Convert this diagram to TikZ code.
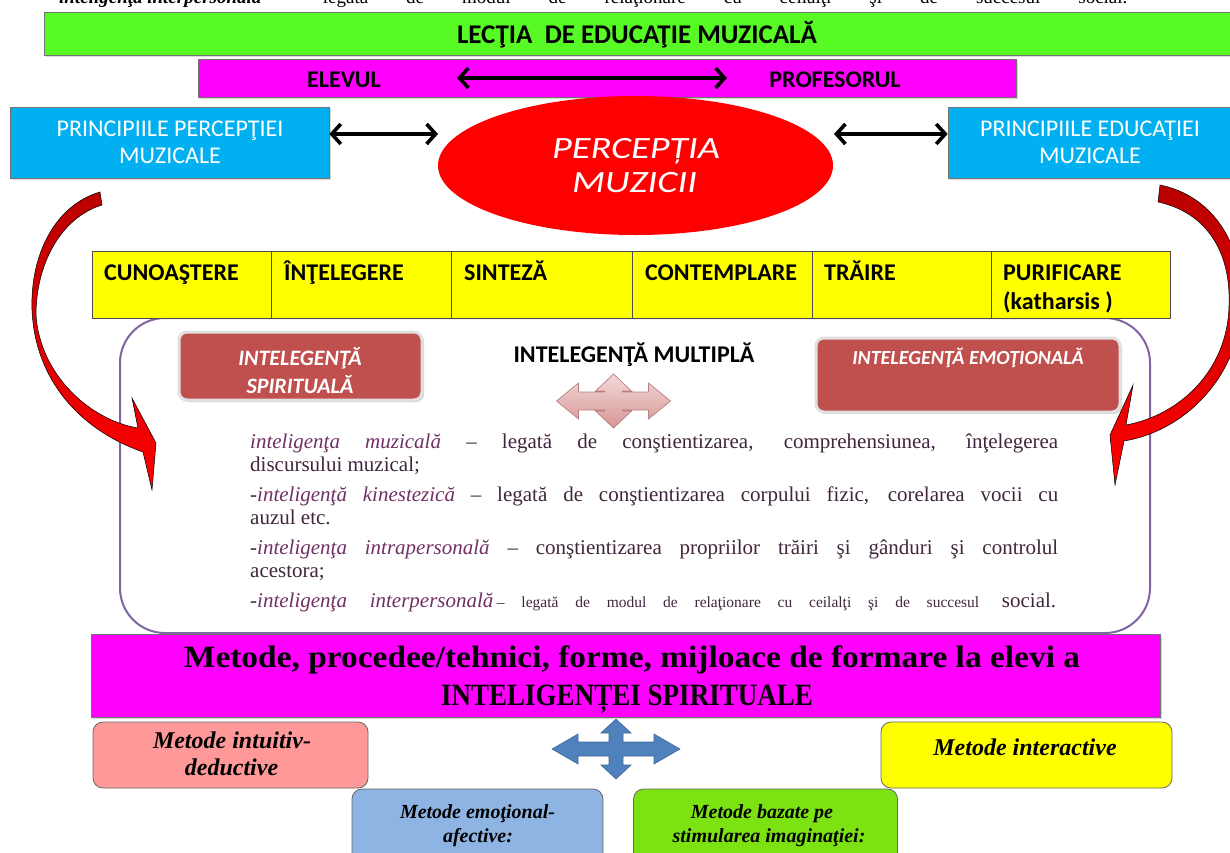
\documentclass[tikz,border=0pt]{standalone}
\usepackage{fontspec}
\usepackage{graphicx}
\setmainfont{Liberation Serif}
\newfontfamily\calfont{Carlito}
\usetikzlibrary{arrows.meta,shapes.geometric,shadows}

\definecolor{cgreen}{RGB}{88,250,38}
\definecolor{cmag}{RGB}{255,0,255}
\definecolor{cblue}{RGB}{0,176,240}
\definecolor{cyel}{RGB}{255,255,0}
\definecolor{cpurp}{RGB}{128,100,162}
\definecolor{cbrick}{RGB}{192,80,77}
\definecolor{cpink}{RGB}{255,153,153}
\definecolor{clblue}{RGB}{141,180,226}
\definecolor{clgreen}{RGB}{124,226,18}
\definecolor{csteel}{RGB}{79,129,189}
\definecolor{cdred}{RGB}{185,0,0}
\definecolor{ctxt}{RGB}{64,38,60}
\definecolor{cital}{RGB}{112,48,100}
\definecolor{cqpink}{RGB}{236,190,190}
\definecolor{cqpinkd}{RGB}{214,150,150}

\newcommand{\fitw}[2]{\resizebox{#1}{\height}{#2}}
% style, cx, cy, hx, hy, shaft, head, Lx, Ly
\newcommand{\quadarr}[9]{%
 \path[#1] ({#2+#4},#3) -- ({#2+#4-#8},{#3-#7}) -- ({#2+#4-#8},{#3-#6}) -- ({#2+#6},{#3-#6})
 -- ({#2+#6},{#3-#5+#9}) -- ({#2+#7},{#3-#5+#9}) -- (#2,{#3-#5}) -- ({#2-#7},{#3-#5+#9})
 -- ({#2-#6},{#3-#5+#9}) -- ({#2-#6},{#3-#6}) -- ({#2-#4+#8},{#3-#6}) -- ({#2-#4+#8},{#3-#7})
 -- ({#2-#4},#3) -- ({#2-#4+#8},{#3+#7}) -- ({#2-#4+#8},{#3+#6}) -- ({#2-#6},{#3+#6})
 -- ({#2-#6},{#3+#5-#9}) -- ({#2-#7},{#3+#5-#9}) -- (#2,{#3+#5}) -- ({#2+#7},{#3+#5-#9})
 -- ({#2+#6},{#3+#5-#9}) -- ({#2+#6},{#3+#6}) -- ({#2+#4-#8},{#3+#6}) -- ({#2+#4-#8},{#3+#7}) -- cycle;}

\tikzset{
 bar/.style={rectangle, draw=black!55, line width=0.7pt, inner sep=0pt,
   drop shadow={shadow xshift=1.5pt, shadow yshift=-1.5pt, opacity=0.3}},
 cell/.style={rectangle, draw=black!70, line width=0.8pt, fill=cyel, inner sep=0pt,
   minimum height=67, anchor=north west},
 celltxt/.style={anchor=base west, inner sep=0pt, font=\calfont\bfseries\fontsize{24}{28}\selectfont},
 caltxt/.style={anchor=base, inner sep=0pt, font=\calfont\fontsize{24}{28}\selectfont},
 calbold/.style={anchor=base, inner sep=0pt, font=\calfont\bfseries\fontsize{24}{28}\selectfont},
 brick/.style={rectangle, rounded corners=8pt, fill=cbrick, draw=black!12, line width=3pt,
   drop shadow={shadow xshift=2pt, shadow yshift=-2pt, opacity=0.35}},
 brtxt/.style={anchor=base, inner sep=0pt, text=white, font=\calfont\bfseries\itshape\fontsize{22}{26}\selectfont},
 body/.style={anchor=base west, inner sep=0pt, text=ctxt, font=\fontsize{21}{23}\selectfont},
 mbox/.style={rectangle, rounded corners=10pt, draw=black!60, line width=0.8pt, inner sep=0pt},
 mtxt/.style={anchor=base, inner sep=0pt, font=\bfseries\itshape\fontsize{24}{27}\selectfont},
 stxt/.style={anchor=base, inner sep=0pt, font=\bfseries\itshape\fontsize{20}{23}\selectfont},
 dbl/.style={line width=3.6pt, arrows={Straight Barb[length=9pt,width=20pt]-Straight Barb[length=9pt,width=20pt]}},
 redarr/.style={top color=cdred, bottom color=red, draw=black, line width=0.5pt},
}

\begin{document}
\begin{tikzpicture}[x=1pt,y=-1pt]
\useasboundingbox (0,0) rectangle (1230,852);
\clip (0,0) rectangle (1230,852);

% cut-off line at top
\node[anchor=base west, inner sep=0pt, font=\fontsize{19}{22}\selectfont] (toptext) at (59,3)
 {\textbf{\textit{inteligenţa interpersonală}}\hspace{14pt}\makebox[852pt][s]{– legată de modul de relaţionare cu ceilalţi şi de succesul social.}};

% title bar
\node[bar, fill=cgreen, minimum width=1195, minimum height=43] (green) at (642,33.5) {};
\node[calbold, font=\calfont\bfseries\fontsize{27}{30}\selectfont] (title) at (637,43) {LECŢIA\ \ DE EDUCAŢIE MUZICALĂ};

% elevul - profesorul
\node[bar, fill=cmag, minimum width=818, minimum height=38] (mag1) at (607,78) {};
\node[calbold] (elev) at (344,87) {ELEVUL};
\node[calbold] (prof) at (835,87) {PROFESORUL};
\coordinate (ea) at (457,78);
\coordinate (pa) at (727,78);
\draw[dbl] (ea) -- (pa);

% principle boxes
\node[bar, fill=cblue, minimum width=319, minimum height=71] (pl) at (169.5,142.5) {};
\node[caltxt, text=white] (pl1) at (170,136) {PRINCIPIILE PERCEPŢIEI};
\node[caltxt, text=white] (pl2) at (170,163) {MUZICALE};
\node[bar, fill=cblue, minimum width=295, minimum height=71] (pr) at (1095.5,142.5) {};
\node[caltxt, text=white] (pr1) at (1090,136) {PRINCIPIILE EDUCAŢIEI};
\node[caltxt, text=white] (pr2) at (1090,163) {MUZICALE};

% ellipse
\node[ellipse, fill=red, minimum width=395, minimum height=139, inner sep=0pt] (perc) at (635.5,165.5) {};
\node[anchor=base, inner sep=0pt, text=white, font=\calfont\itshape\fontsize{31}{34}\selectfont] (pc1) at (636,158) {\fitw{168pt}{PERCEPȚIA}};
\node[anchor=base, inner sep=0pt, text=white, font=\calfont\itshape\fontsize{31}{34}\selectfont] (pc2) at (634.5,192) {\fitw{125pt}{MUZICII}};

\coordinate (lae) at (438,134);
\coordinate (rae) at (834,134);
\draw[dbl] ([yshift=8.5pt]pl.east) -- (lae);
\draw[dbl] (rae) -- ([yshift=8.5pt]pl.east -| pr.west);

% container
\node[rectangle, draw=cpurp, line width=2pt, rounded corners=45pt, minimum width=1030, minimum height=315, inner sep=0pt] (cont) at (635,475.5) {};

% table
\node[cell, minimum width=179] (c1) at (92,251) {};
\node[cell, minimum width=180] (c2) at (271,251) {};
\node[cell, minimum width=181] (c3) at (451,251) {};
\node[cell, minimum width=180] (c4) at (632,251) {};
\node[cell, minimum width=179] (c5) at (812,251) {};
\node[cell, minimum width=179] (c6) at (991,251) {};
\node[celltxt] (t1) at (104,280) {CUNOAŞTERE};
\node[celltxt] (t2) at (284,280) {ÎNŢELEGERE};
\node[celltxt] (t3) at (464,280) {SINTEZĂ};
\node[celltxt] (t4) at (645,280) {CONTEMPLARE};
\node[celltxt] (t5) at (824,280) {TRĂIRE};
\node[celltxt] (t6) at (1003,280) {PURIFICARE};
\node[celltxt] (t6b) at (1003,309) {(katharsis )};

% intelligence boxes
\node[brick, minimum width=243, minimum height=68] (spir) at (300.5,366) {};
\node[brtxt] (sp1) at (300,365) {INTELEGENŢĂ};
\node[brtxt] (sp2) at (300,393) {SPIRITUALĂ};
\node[brick, minimum width=304, minimum height=74] (emo) at (968,375) {};
\node[brtxt, font=\calfont\bfseries\itshape\fontsize{20}{23}\selectfont] (em1) at (968,364) {INTELEGENŢĂ EMOŢIONALĂ};
\node[anchor=base, inner sep=0pt, font=\calfont\bfseries\fontsize{24}{27}\selectfont] (mult) at (634,362) {INTELEGENŢĂ MULTIPLĂ};

\quadarr{top color=cqpink!60!white, bottom color=cqpinkd, draw=cqpinkd!85!black, line width=0.7pt}{613.5}{401}{57}{27}{9}{18}{22}{17}

% body text
\node[body] (b1) at (250,448) {\makebox[808pt][s]{{\color{cital}\itshape inteligenţa muzicală} – legată de conştientizarea, comprehensiunea, înţelegerea}};
\node[body] (b2) at (250,471) {discursului muzical;};
\node[body] (b3) at (250,501) {\makebox[808pt][s]{-{\color{cital}\itshape inteligenţă kinestezică} – legată de conştientizarea corpului fizic, corelarea vocii cu}};
\node[body] (b4) at (250,524) {auzul etc.};
\node[body] (b5) at (250,554) {\makebox[808pt][s]{-{\color{cital}\itshape inteligenţa intrapersonală} – conştientizarea propriilor trăiri şi gânduri şi controlul}};
\node[body] (b6) at (250,577) {acestora;};
\node[body] (b7) at (250,607) {\makebox[806pt][s]{-{\color{cital}\itshape inteligenţa interpersonală}\,{\fontsize{15.5}{18}\selectfont – legată de modul de relaţionare cu ceilalţi şi de succesul} social.}};

% curved red arrows
\path[redarr] (100,192) .. controls (55,205) and (30,255) .. (32,310)
  .. controls (35,380) and (80,430) .. (143,452) -- (152,490) -- (156,443) -- (132,398) -- (138,428)
  .. controls (90,420) and (40,375) .. (36,315) .. controls (36,265) and (60,218) .. (102,205) -- cycle;
\path[redarr] (1160,185) .. controls (1210,195) and (1242,240) .. (1242,300)
  .. controls (1242,370) and (1190,430) .. (1124,441) -- (1115,485) -- (1110,435) -- (1133,385) -- (1126,425)
  .. controls (1180,415) and (1228,370) .. (1229,305) .. controls (1231,250) and (1205,212) .. (1158,202) -- cycle;

% methods title
\node[bar, fill=cmag, minimum width=1069, minimum height=83] (meth) at (625.5,675.5) {};
\node[anchor=base, inner sep=0pt, font=\bfseries\fontsize{31}{36}\selectfont] (mt1) at (632,667) {\fitw{896pt}{Metode, procedee/tehnici, forme, mijloace de formare la elevi a}};
\node[anchor=base, inner sep=0pt, font=\bfseries\fontsize{31}{36}\selectfont] (mt2) at (627,705) {\fitw{372pt}{INTELIGENȚEI SPIRITUALE}};

% method boxes
\node[mbox, fill=cpink, minimum width=275, minimum height=66] (m1) at (230.5,755) {};
\node[mtxt] (m1a) at (232,748) {Metode intuitiv-};
\node[mtxt] (m1b) at (231.5,775) {deductive};
\node[mbox, fill=cyel, minimum width=291, minimum height=66] (m2) at (1026.5,755) {};
\node[mtxt] (m2a) at (1025,755) {Metode interactive};
\node[mbox, fill=clblue, minimum width=251, minimum height=80] (m3) at (477.5,829) {};
\node[stxt] (m3a) at (477.5,818) {Metode emoţional-};
\node[stxt] (m3b) at (478,842) {afective:};
\node[mbox, fill=clgreen, minimum width=264, minimum height=80] (m4) at (765.5,829) {};
\node[stxt] (m4a) at (762,818) {Metode bazate pe};
\node[stxt] (m4b) at (769,842) {stimularea imaginaţiei:};

\quadarr{fill=csteel, draw=csteel!80!black, line width=0.6pt}{616}{749}{64}{30}{7}{15}{26}{14}
\end{tikzpicture}
\end{document}
